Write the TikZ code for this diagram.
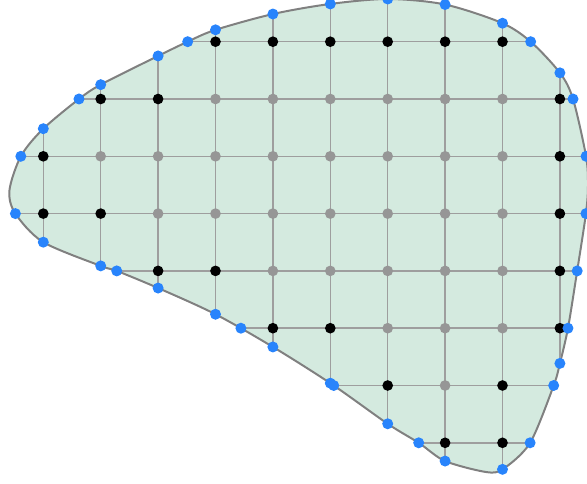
\documentclass[tikz,border=0pt]{standalone}
\usepackage{tikz}
\usetikzlibrary{intersections}
\definecolor{rgfill}{RGB}{212,234,223}
\definecolor{rgedge}{RGB}{128,128,128}
\definecolor{rggrid}{RGB}{158,158,158}
\definecolor{rgblue}{RGB}{40,132,252}
\definecolor{rginner}{RGB}{150,150,150}
\tikzset{
  region/.style={draw=rgedge,line width=1.7pt,fill=rgfill},
  gridline/.style={draw=rggrid,line width=1.2pt},
  innerpt/.style={circle,fill=rginner,inner sep=0pt,minimum size=3.2mm},
  edgept/.style={circle,fill=black,inner sep=0pt,minimum size=3.2mm},
  crosspt/.style={circle,fill=rgblue,inner sep=0pt,minimum size=3.3mm}
}
% boundary of the region, in pixel units
\newcommand{\regionpath}{plot[smooth cycle] coordinates {
  (388,-1) (445,4.5) (502,23) (531,42) (560,73) (573,99) (586,156) (588,185)
  (586,213) (577,272) (568,328) (560,363) (553.5,386) (530,443) (503,469)
  (486,472) (445,461) (419,443) (388,424) (331.5,384) (273,347) (215,314)
  (158,288) (117,271) (101,266) (43,242) (15,213) (9.5,190) (21,156)
  (43,129) (79,99) (101,84.5) (158,56) (187,42) (215,30) (273,14) (330,4)}}
\newcommand{\gx}[1]{43.3+57.4*#1}
\newcommand{\gy}[1]{41.7+57.3*#1}

\begin{document}
\begin{tikzpicture}[x=0.03cm,y=-0.03cm]
  \useasboundingbox (0,0) rectangle (587,484);
  \path[region,name path=bnd] \regionpath;
  % grid lines, cut at the boundary
  \begin{scope}
    \clip \regionpath;
    \foreach \j in {0,...,7}
      \draw[gridline] (0,{\gy{\j}}) -- (600,{\gy{\j}});
    \foreach \i in {0,...,9}
      \draw[gridline] ({\gx{\i}},-10) -- ({\gx{\i}},500);
  \end{scope}
  % interior points
  \foreach \i/\j in {3/1,4/1,5/1,6/1,7/1,8/1,
                     1/2,2/2,3/2,4/2,5/2,6/2,7/2,8/2,
                     2/3,3/3,4/3,5/3,6/3,7/3,8/3,
                     4/4,5/4,6/4,7/4,8/4,
                     6/5,7/5,8/5,
                     7/6}
    \node[innerpt] (p-\i-\j) at ({\gx{\i}},{\gy{\j}}) {};
  \foreach \i/\j in {3/0,4/0,5/0,6/0,7/0,8/0,
                     1/1,2/1,9/1,
                     0/2,9/2,
                     0/3,1/3,9/3,
                     2/4,3/4,9/4,
                     4/5,5/5,9/5,
                     6/6,8/6,
                     7/7,8/7}
    \node[edgept] (p-\i-\j) at ({\gx{\i}},{\gy{\j}}) {};
  % crossings of the grid lines with the boundary
  \foreach \j in {0,...,7} {
    \path[name path=row] (0,{\gy{\j}}) -- (600,{\gy{\j}});
    \path[name intersections={of=bnd and row,name=hx,total=\t}]
      \foreach \k in {1,...,\t} {node[crosspt] at (hx-\k) {}};
  }
  \foreach \i in {0,...,9} {
    \path[name path=col] ({\gx{\i}},-10) -- ({\gx{\i}},500);
    \path[name intersections={of=bnd and col,name=vx,total=\t}]
      \foreach \k in {1,...,\t} {node[crosspt] at (vx-\k) {}};
  }
\end{tikzpicture}
\end{document}
